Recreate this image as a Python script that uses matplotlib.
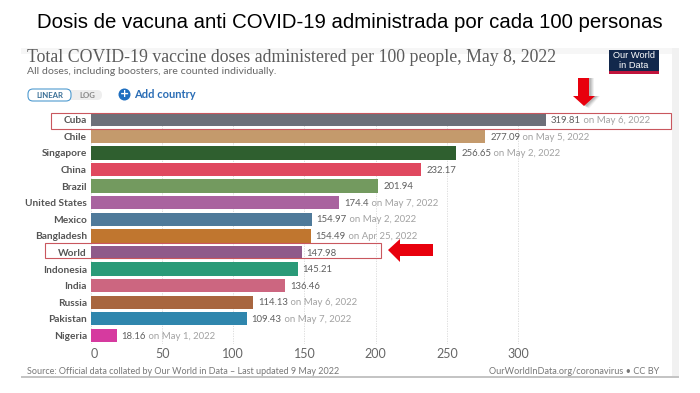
import matplotlib
matplotlib.use('Agg')
import matplotlib.pyplot as plt
from matplotlib.patches import Rectangle, Polygon, FancyBboxPatch, Circle

countries = ['Cuba', 'Chile', 'Singapore', 'China', 'Brazil', 'United States', 'Mexico',
             'Bangladesh', 'World', 'Indonesia', 'India', 'Russia', 'Pakistan', 'Nigeria']
doses = [319.81, 277.09, 256.65, 232.17, 201.94, 174.4, 154.97,
         154.49, 147.98, 145.21, 136.46, 114.13, 109.43, 18.16]
dates = ['on May 6, 2022', 'on May 5, 2022', 'on May 2, 2022', '', '', 'on May 7, 2022', 'on May 2, 2022',
         'on Apr 25, 2022', '', '', '', 'on May 6, 2022', 'on May 7, 2022', 'on May 1, 2022']
colors = ['#6d7079', '#c49a6c', '#2f5f2f', '#e0485f', '#739a5f', '#a9639f', '#4f7a9a',
          '#c0762f', '#8f5a8a', '#2a9a78', '#cc6680', '#a8663f', '#2f86ad', '#d63a9f']
x_ticks = [0, 50, 100, 150, 200, 250, 300]

W, H = 700, 393
fig = plt.figure(figsize=(7, 3.93), dpi=100, facecolor='white')

# overlay in pixel coords for everything that is not the chart itself
bg = fig.add_axes([0, 0, 1, 1], zorder=0)
bg.set_xlim(0, W)
bg.set_ylim(H, 0)
bg.axis('off')

top = fig.add_axes([0, 0, 1, 1], zorder=3)
top.set_xlim(0, W)
top.set_ylim(H, 0)
top.axis('off')
top.patch.set_alpha(0)

# panel edges
bg.add_patch(Rectangle((21, 48), 651, 328, fc='white', ec='none'))
bg.add_patch(Rectangle((21, 48), 651, 6, fc='#f6f6f6', ec='none'))
bg.add_patch(Rectangle((672, 48), 7, 328, fc='#f1f1f1', ec='none'))
bg.add_patch(Rectangle((21, 375.5), 658, 2.5, fc='#c4c4c4', ec='none'))

# chart
left, right, y_top, y_bot = 91, 672, 111.5, 344
ax = fig.add_axes([left / W, 1 - y_bot / H, (right - left) / W, (y_bot - y_top) / H], zorder=1)
ax.patch.set_alpha(0)
ax.set_xlim(0, (right - left) / 1.4233)
ax.set_ylim(len(countries) - 0.5 + 0.02, -0.5)

ax.barh(range(len(countries)), doses, height=0.8, color=colors, zorder=2)
for i in range(len(countries)):
    t = ax.annotate(str(doses[i]), (doses[i], i), xytext=(3.5, -0.5), textcoords='offset points',
                    va='center', fontsize=6.9, color='#5f5f5f', family='Lato')
    if dates[i]:
        ax.annotate(' ' + dates[i], xy=(1, 0.5), xycoords=t, va='center', fontsize=6.9,
                    color='#a2a2a2', family='Lato')

ax.set_yticks(range(len(countries)), countries, fontsize=7.3, fontweight='bold',
              color='#555555', family='Lato')
ax.set_xticks(x_ticks, [str(v) for v in x_ticks], fontsize=9, color='#666666', family='Lato')
ax.tick_params(axis='both', length=0)
ax.tick_params(axis='x', pad=3)
ax.tick_params(axis='y', pad=3)
ax.grid(axis='x', color='#d8d8d8', linestyle=(0, (1.5, 1.5)), linewidth=0.6, zorder=0)
ax.set_axisbelow(True)
for s in ax.spines.values():
    s.set_visible(False)
ax.get_xticklabels()[0].set_ha('left')

# main heading and chart titles
top.text(349.5, 23, 'Dosis de vacuna anti COVID-19 administrada por cada 100 personas',
         ha='center', va='center', fontsize=14.65, color='black', family='Liberation Sans')
top.text(27, 58, 'Total COVID-19 vaccine doses administered per 100 people, May 8, 2022',
         ha='left', va='center', fontsize=12.8, color='#5b5b5b', family='Liberation Serif')
top.text(27, 72, 'All doses, including boosters, are counted individually.',
         ha='left', va='center', fontsize=7.55, color='#666666', family='Lato')

# logo
top.add_patch(Rectangle((609, 50), 50, 21, fc='#12284c', ec='none'))
top.add_patch(Rectangle((609, 71), 50, 2.5, fc='#c0143c', ec='none'))
top.text(634, 60.5, 'Our World\nin Data', ha='center', va='center', fontsize=6.7,
         color='white', linespacing=1.0, family='Liberation Sans')

# linear / log toggle
top.add_patch(FancyBboxPatch((32, 90), 70, 10, boxstyle='round,pad=0,rounding_size=5',
                             fc='#eeeeee', ec='none'))
top.add_patch(FancyBboxPatch((28, 89), 43, 12, boxstyle='round,pad=0,rounding_size=5',
                             fc='white', ec='#4f9bd0', lw=0.8))
top.text(49.5, 95, 'LINEAR', ha='center', va='center', fontsize=5.6, fontweight='bold',
         color='#3a6f96', family='Lato')
top.text(87, 95, 'LOG', ha='center', va='center', fontsize=5.6, fontweight='bold',
         color='#888888', family='Lato')
top.add_patch(Circle((124.5, 94.5), 6, fc='#1f6fc0', ec='none'))
top.text(124.5, 94.2, '+', ha='center', va='center', fontsize=8, fontweight='bold', color='white')
top.text(134, 94.5, 'Add country', ha='left', va='center', fontsize=8, fontweight='bold',
         color='#2a6db5', family='Lato')

# highlight boxes
top.add_patch(Rectangle((51, 112.5), 620, 16, fc='none', ec='#c9575e', lw=0.8))
top.add_patch(Rectangle((45, 243), 336, 15, fc='none', ec='#c9575e', lw=0.8))

# red arrows, the first has a soft shadow on its right
for off, alpha in [(5, 0.10), (4, 0.14), (3, 0.18), (2, 0.22)]:
    top.add_patch(Polygon([(578 + off, 78), (589 + off, 78), (589 + off, 96), (595 + off, 96),
                           (584 + off, 106 + off / 2), (573 + off, 96), (578 + off, 96)],
                          fc='#777777', ec='none', alpha=alpha))
top.add_patch(Polygon([(578, 78), (589, 78), (589, 96), (595, 96), (584, 106), (573, 96), (578, 96)],
                      fc='#e8000d', ec='none'))
top.add_patch(Polygon([(433, 244), (400, 244), (400, 239), (388, 250), (400, 262), (400, 256), (433, 256)],
                      fc='#e8000d', ec='none'))

# footer
top.text(27, 372, 'Source: Official data collated by Our World in Data \u2013 Last updated 9 May 2022',
         ha='left', va='center', fontsize=6.5, color='#777777', family='Lato')
top.text(659, 372, 'OurWorldInData.org/coronavirus \u2022 CC BY', ha='right', va='center',
         fontsize=6.55, color='#777777', family='Lato')

fig.savefig('out.png', dpi=100)
